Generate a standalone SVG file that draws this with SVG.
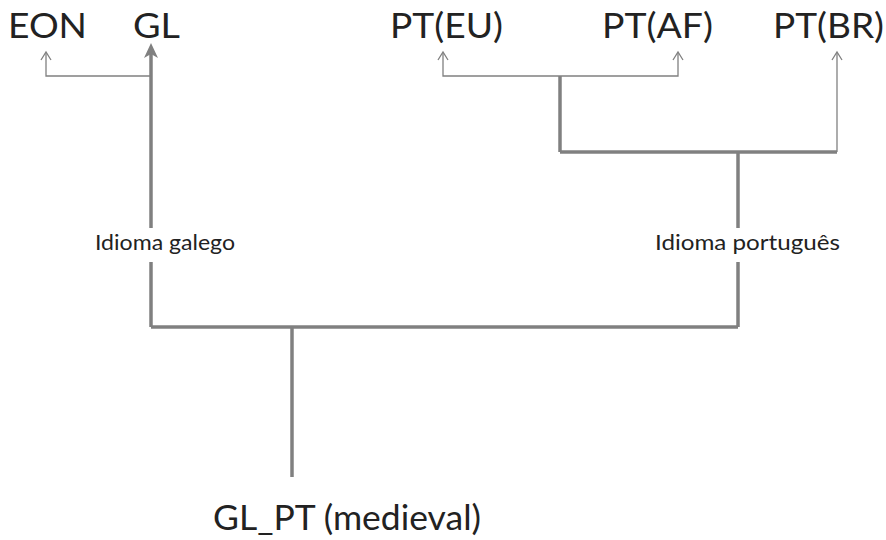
<svg xmlns="http://www.w3.org/2000/svg" width="886" height="540" viewBox="0 0 886 540">
<style>
.t{font-family:Lato,"Open Sans","Liberation Sans",sans-serif;fill:#222}
.big{font-size:35px}
.small{font-size:22px}
.thick{stroke:#808080;stroke-width:3.5;fill:none}
.thin{stroke:#808080;stroke-width:1.3;fill:none}
.ah{stroke:#808080;stroke-width:1.3;fill:none}
.ahb{fill:#808080;stroke:none}
</style>
<rect width="886" height="540" fill="#fff"/>
<g id="connectors">
<path class="thick" d="M292,477 V327"/>
<path class="thick" d="M151,327 H738"/>
<path class="thick" d="M151,327 V262"/>
<path class="thick" d="M151,228 V50"/>
<path class="ahb" d="M151,43 L158,58 L151,54 L144,58 Z"/>
<path class="thin" d="M151,76 H46 V53"/>
<path class="ah" d="M41,60 L46,52 L51,60"/>
<path class="thick" d="M738,327 V262"/>
<path class="thick" d="M738,228 V152"/>
<path class="thick" d="M560,152 H837"/>
<path class="thick" d="M560,152 V76"/>
<path class="thin" d="M560,76 H443 V53"/>
<path class="ah" d="M438,60 L443,52 L448,60"/>
<path class="thin" d="M560,76 H678 V53"/>
<path class="ah" d="M673,60 L678,52 L683,60"/>
<path class="thin" d="M837,152 V53"/>
<path class="ah" d="M832,60 L837,52 L842,60"/>
</g>
<g id="n_glpt"><text class="t big" x="213" y="530" textLength="268" lengthAdjust="spacingAndGlyphs">GL_PT (medieval)</text></g>
<g id="n_eon"><text class="t big" x="8" y="38" textLength="79" lengthAdjust="spacingAndGlyphs">EON</text></g>
<g id="n_gl"><text class="t big" x="133" y="38" textLength="47" lengthAdjust="spacingAndGlyphs">GL</text></g>
<g id="n_pteu"><text class="t big" x="390" y="38" textLength="113" lengthAdjust="spacingAndGlyphs">PT(EU)</text></g>
<g id="n_ptaf"><text class="t big" x="602" y="38" textLength="111" lengthAdjust="spacingAndGlyphs">PT(AF)</text></g>
<g id="n_ptbr"><text class="t big" x="773" y="38" textLength="111" lengthAdjust="spacingAndGlyphs">PT(BR)</text></g>
<g id="l_galego"><text class="t small" x="95" y="250" textLength="140" lengthAdjust="spacingAndGlyphs">Idioma galego</text></g>
<g id="l_portugues"><text class="t small" x="655" y="250" textLength="185" lengthAdjust="spacingAndGlyphs">Idioma português</text></g>
</svg>
